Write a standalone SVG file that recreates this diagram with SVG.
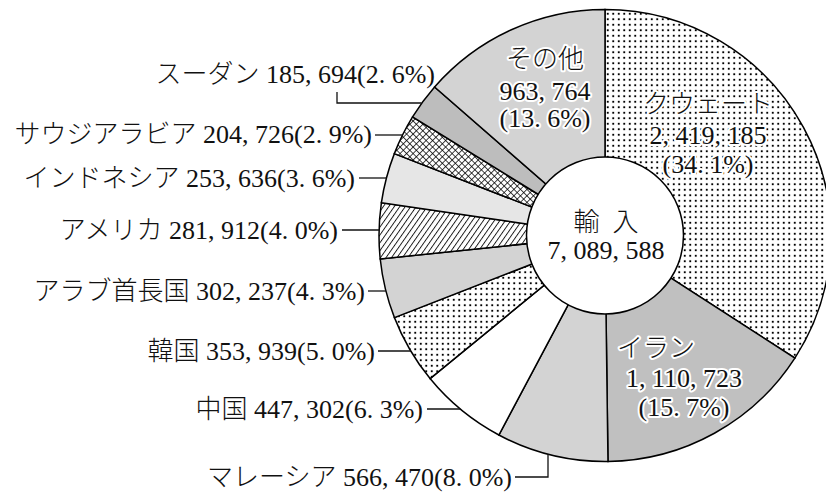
<svg xmlns="http://www.w3.org/2000/svg" width="826" height="495" viewBox="0 0 826 495">
<style>
.t{font-family:"Liberation Serif","Noto Sans CJK JP",serif;font-size:26px;fill:#111;font-weight:300}
.e{text-anchor:end}
.m{text-anchor:middle}
.halo{paint-order:stroke;stroke:#fff;stroke-width:4px;stroke-linejoin:round}
.s{stroke:#000;stroke-width:1.5;stroke-linejoin:miter}
.lead{fill:none;stroke:#111;stroke-width:1.3}
</style>
<defs>
<pattern id="dots" patternUnits="userSpaceOnUse" width="5.5" height="5.5">
<rect width="5.5" height="5.5" fill="#fff"/>
<rect x="1.8" y="1.8" width="1.9" height="1.9" fill="#000"/>
</pattern>
<pattern id="hatch" patternUnits="userSpaceOnUse" width="4.5" height="10" patternTransform="rotate(35)">
<rect width="4.5" height="10" fill="#fff"/>
<line x1="0.5" y1="0" x2="0.5" y2="10" stroke="#000" stroke-width="0.9"/>
</pattern>
<pattern id="cross" patternUnits="userSpaceOnUse" width="4.6" height="4.6" patternTransform="rotate(45)">
<rect width="4.6" height="4.6" fill="#fff"/>
<line x1="0" y1="0.4" x2="4.6" y2="0.4" stroke="#000" stroke-width="0.8"/>
<line x1="0.4" y1="0" x2="0.4" y2="4.6" stroke="#000" stroke-width="0.8"/>
</pattern>
</defs>

<g id="kuwait">
<path class="s" fill="url(#dots)" d="M605,235.5 L605,9.5 A226,226 0 0 1 794.88,358.07 Z"/>
<text class="t m halo" x="708" y="113">クウェート</text>
<text class="t m halo" x="708" y="144">2, 419, 185</text>
<text class="t m halo" x="708" y="173">(34. 1%)</text>
</g>
<g id="iran">
<path class="s" fill="#c0c0c0" d="M605,235.5 L794.88,358.07 A226,226 0 0 1 607.98,461.48 Z"/>
<text class="t m halo" x="656" y="357">イラン</text>
<text class="t m halo" x="684" y="387">1, 110, 723</text>
<text class="t m halo" x="684" y="416">(15. 7%)</text>
</g>
<g id="malaysia">
<path class="s" fill="#d3d3d3" d="M605,235.5 L607.98,461.48 A226,226 0 0 1 498.87,435.03 Z"/>
<text class="t e" x="512" y="486">マレーシア 566, 470(8. 0%)</text>
</g>
<g id="china">
<path class="s" fill="#fff" d="M605,235.5 L498.87,435.03 A226,226 0 0 1 430.06,378.58 Z"/>
<text class="t e" x="423" y="418">中国 447, 302(6. 3%)</text>
</g>
<g id="korea">
<path class="s" fill="url(#dots)" d="M605,235.5 L430.06,378.58 A226,226 0 0 1 394.44,317.61 Z"/>
<text class="t e" x="375" y="360">韓国 353, 939(5. 0%)</text>
</g>
<g id="uae">
<path class="s" fill="#d3d3d3" d="M605,235.5 L394.44,317.61 A226,226 0 0 1 380.22,258.96 Z"/>
<text class="t e" x="365" y="299.5">アラブ首長国 302, 237(4. 3%)</text>
</g>
<g id="usa">
<path class="s" fill="url(#hatch)" d="M605,235.5 L380.22,258.96 A226,226 0 0 1 381.40,202.65 Z"/>
<text class="t e" x="338" y="238.5">アメリカ 281, 912(4. 0%)</text>
</g>
<g id="indonesia">
<path class="s" fill="#e6e6e6" d="M605,235.5 L381.40,202.65 A226,226 0 0 1 394.35,153.64 Z"/>
<text class="t e" x="355" y="186.5">インドネシア 253, 636(3. 6%)</text>
</g>
<g id="saudi">
<path class="s" fill="url(#cross)" d="M605,235.5 L394.35,153.64 A226,226 0 0 1 412.57,116.97 Z"/>
<text class="t e" x="372" y="143">サウジアラビア 204, 726(2. 9%)</text>
</g>
<g id="sudan">
<path class="s" fill="#bdbdbd" d="M605,235.5 L412.57,116.97 A226,226 0 0 1 434.59,87.05 Z"/>
<text class="t e" x="435" y="82.5">スーダン 185, 694(2. 6%)</text>
</g>
<g id="others">
<path class="s" fill="#d3d3d3" d="M605,235.5 L434.59,87.05 A226,226 0 0 1 605,9.5 Z"/>
<text class="t m halo" x="545" y="68">その他</text>
<text class="t m halo" x="545" y="100">963, 764</text>
<text class="t m halo" x="545" y="127">(13. 6%)</text>
</g>
<g id="total">
<circle cx="605" cy="235.5" r="78.5" fill="#fff" stroke="#000" stroke-width="1.5"/>
<text class="t m" x="606" y="231" textLength="65" lengthAdjust="spacing">輸 入</text>
<text class="t m" x="606" y="259">7, 089, 588</text>
</g>

<g id="connectors">
<polyline class="lead" points="337,92 337,103 421.6,103"/>
<line class="lead" x1="375" y1="135" x2="402.6" y2="135"/>
<line class="lead" x1="359" y1="178" x2="386.4" y2="178"/>
<line class="lead" x1="342" y1="230" x2="379.1" y2="230"/>
<line class="lead" x1="368" y1="291" x2="385.9" y2="291"/>
<line class="lead" x1="378" y1="351" x2="410.8" y2="351"/>
<line class="lead" x1="427" y1="409" x2="460.2" y2="409"/>
<polyline class="lead" points="515,477 548,477 548,454.2"/>
</g>
</svg>
